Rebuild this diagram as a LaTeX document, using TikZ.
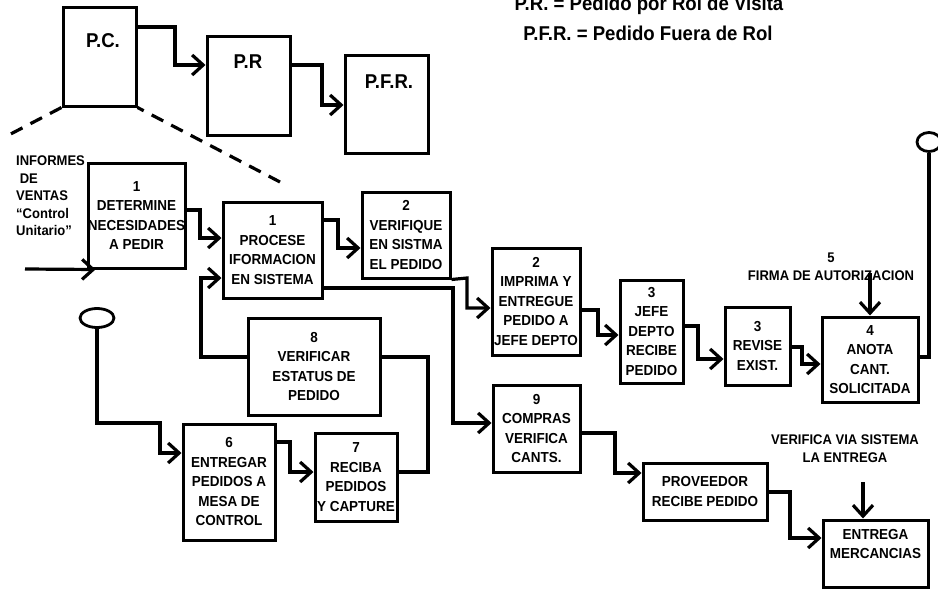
\documentclass[tikz,border=0pt]{standalone}
\usepackage{fontspec}
\setmainfont{Liberation Sans}
\newfontfamily\boxfnt[FakeStretch=0.93]{Liberation Sans}
\usetikzlibrary{arrows.meta,shapes.geometric}
\begin{document}
\begin{tikzpicture}[x=1pt,y=-1pt,
  box/.style={draw, line width=3pt, inner sep=0pt, align=center,
    font=\boxfnt\bfseries\fontsize{14.5}{19.5}\selectfont},
  small/.style={inner sep=0pt, align=center,
    font=\boxfnt\bfseries\fontsize{14}{18}\selectfont},
  big/.style={inner sep=0pt, anchor=base,
    font=\boxfnt\bfseries\fontsize{20}{22}\selectfont},
  conn/.style={line width=3.2pt},
  arr/.style={conn, -{Straight Barb[length=11pt,width=20pt]}},
  dashline/.style={line width=3.2pt, dash pattern=on 13pt off 9pt},
  endcirc/.style={draw, ellipse, line width=2.8pt, inner sep=0pt}]
\useasboundingbox (0,0) rectangle (938,589);

% top boxes
\node[box, minimum width=73pt, minimum height=99pt] (pc) at (99.5,56.5) {};
\node[box, minimum width=83pt, minimum height=99pt] (pr) at (248.5,85.5) {};
\node[box, minimum width=83pt, minimum height=98pt] (pfr) at (386.5,104) {};
\node[big] (pct) at (103,47) {P.C.};
\node[big] (prt) at (248,68) {P.R};
\node[big] (pfrt) at (389,88) {P.F.R.};

% legend
\node[big] (leg1) at (649,10) {P.R. = Pedido por Rol de Visita};
\node[big] (leg2) at (648,41) {P.F.R. = Pedido Fuera de Rol};

% dashed lines
\draw[dashline] (pc.south west) -- (3,138);
\draw[dashline, dash phase=6pt] (pc.south east) -- (280,182);

% flow boxes
\node[box, minimum width=97pt, minimum height=105pt] (det) at (136.5,215.5) {1\\DETERMINE\\\makebox[0pt]{NECESIDADES}\\A PEDIR};
\node[box, minimum width=99pt, minimum height=96pt] (proc) at (272.5,250) {1\\PROCESE\\IFORMACION\\EN SISTEMA};
\node[box, minimum width=88pt, minimum height=86pt] (ver) at (406,235) {2\\VERIFIQUE\\EN SISTMA\\EL PEDIDO};
\node[box, minimum width=88pt, minimum height=107pt] (imp) at (536,301.5) {2\\IMPRIMA Y\\ENTREGUE\\PEDIDO A\\\makebox[0pt]{JEFE DEPTO}};
\node[box, minimum width=63pt, minimum height=103pt] (jefe) at (651.5,331.5) {3\\JEFE\\DEPTO\\RECIBE\\PEDIDO};
\node[box, minimum width=65pt, minimum height=78pt] (rev) at (757.5,346) {3\\REVISE\\EXIST.};
\node[box, minimum width=96pt, minimum height=85pt] (anota) at (870,359.5) {4\\ANOTA\\CANT.\\\makebox[0pt]{SOLICITADA}};
\node[box, minimum width=132pt, minimum height=97pt] (vest) at (314,366.5) {8\\VERIFICAR\\ESTATUS DE\\PEDIDO};
\node[box, minimum width=92pt, minimum height=116pt] (ent6) at (229,482) {6\\ENTREGAR\\PEDIDOS A\\MESA DE\\CONTROL};
\node[box, minimum width=82pt, minimum height=88pt] (rec7) at (356,477) {7\\RECIBA\\PEDIDOS\\\makebox[0pt]{Y CAPTURE}};
\node[box, minimum width=87pt, minimum height=87pt] (comp) at (536.5,428.5) {9\\COMPRAS\\VERIFICA\\CANTS.};
\node[box, minimum width=124pt, minimum height=57pt] (prov) at (705,491.5) {PROVEEDOR\\RECIBE PEDIDO};
\node[box, minimum width=105pt, minimum height=67pt] (entm) at (875.5,553.5) {ENTREGA\\MERCANCIAS\\~};

% free texts
\node[small, align=left, anchor=north west, font=\boxfnt\bfseries\fontsize{14}{17.5}\selectfont] (inf) at (16,156) {INFORMES\\\ DE\\VENTAS\\“Control\\Unitario”};
\node[small] (firma) at (831,267) {5\\FIRMA DE AUTORIZACION};
\node[small] (vvia) at (845,449) {VERIFICA VIA SISTEMA\\LA ENTREGA};

% end circles
\node[endcirc, minimum width=34pt, minimum height=19pt] (c1) at (97,318) {};
\node[endcirc, minimum width=24pt, minimum height=19pt] (c2) at (929,142) {};

\coordinate (infin) at (25,269);
\coordinate (f5) at (870,273);
\coordinate (v5) at (863,482);

% connectors
\draw[arr] (pc.east |- 0,27) -- (175,27) |- (pr.west |- 0,65);
\draw[arr] (pr.east |- 0,65) -- (322,65) |- (pfr.west |- 0,105);
\draw[arr] (infin) -- ([xshift=9pt]det.south west);
\draw[arr] (det.east |- 0,210) -- (200,210) |- (proc.west |- 0,238);
\draw[arr] (vest.west |- 0,357) -| (201,278) -- (proc.west |- 0,278);
\draw[arr] (proc.east |- 0,220) -- (338,220) |- (ver.west |- 0,248);
\draw[arr] (ver.south east) -- (467,278) |- (imp.west |- 0,308);
\draw[arr] (proc.east |- 0,288) -- (453,288) |- (comp.west |- 0,423);
\draw[arr] (imp.east |- 0,310) -- (598,310) |- (jefe.west |- 0,335);
\draw[arr] (jefe.east |- 0,326) -- (698,326) |- (rev.west |- 0,359);
\draw[arr] (rev.east |- 0,347) -- (802,347) |- (anota.west |- 0,364);
\draw[arr] (f5) -- (anota.north -| f5);
\draw[conn] (anota.east |- 0,357) -| (c2.south);
\draw[arr] (c1.south) |- (160,423) |- (ent6.west |- 0,453);
\draw[arr] (ent6.east |- 0,442) -- (290,442) |- (rec7.west |- 0,472);
\draw[conn] (rec7.east |- 0,472) -| (428,357) -- (vest.east |- 0,357);
\draw[arr] (comp.east |- 0,433) -- (615,433) |- (prov.west |- 0,473);
\draw[arr] (prov.east |- 0,492) -- (790,492) |- (entm.west |- 0,538);
\draw[arr] (v5) -- (entm.north -| v5);
\end{tikzpicture}
\end{document}
